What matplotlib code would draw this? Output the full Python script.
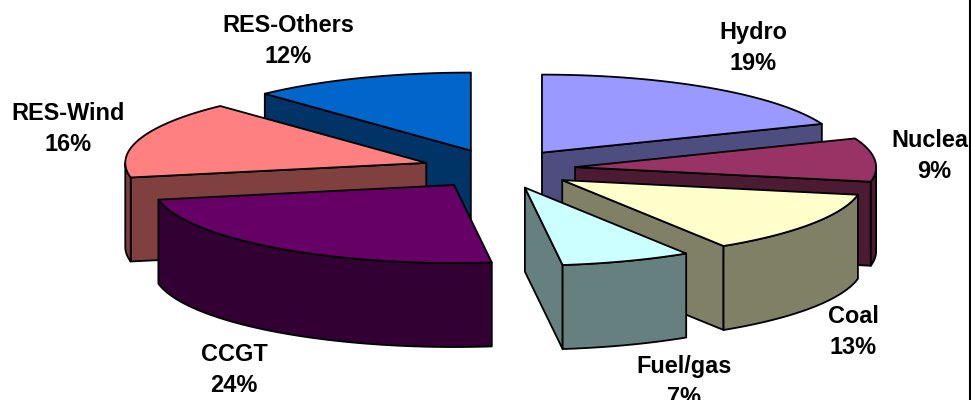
import numpy as np
import matplotlib
matplotlib.use("Agg")
import matplotlib.pyplot as plt
from matplotlib.patches import Polygon, Rectangle

categories = ["Hydro", "Nuclear", "Coal", "Fuel/gas", "CCGT", "RES-Wind", "RES-Others"]
values = [19, 9, 13, 7, 24, 16, 12]
top_colors = ["#9999FF", "#993366", "#FFFFCC", "#CCFFFF", "#660066", "#FF8080", "#0066CC"]
wall_colors = ["#4D4D80", "#4D1A33", "#808066", "#668080", "#330033", "#804040", "#003366"]
label_centers = [(753, 48), (934, 156), (853, 332), (684, 382), (234, 370), (68, 129), (288, 41)]
draw_order = [6, 0, 5, 1, 2, 4, 3]

CX, CY, RX, RY, DEPTH, EXPLODE = 499, 169, 301, 78, 84, 0.254
EDGE = dict(edgecolor="black", linewidth=1.3, joinstyle="round")

fig = plt.figure(figsize=(9.71, 4.0), dpi=100)
ax = fig.add_axes([0, 0, 1, 1])
ax.set_xlim(0, 971)
ax.set_ylim(400, 0)
ax.axis("off")


def pt(theta, cx, cy, r=1.0):
    return np.column_stack([cx + r * RX * np.sin(theta), cy - r * RY * np.cos(theta)])


def wall(top_edge, color):
    down = top_edge + np.array([0, DEPTH])
    ax.add_patch(Polygon(np.vstack([top_edge, down[::-1]]), closed=True, facecolor=color, **EDGE))


fractions = np.array(values, dtype=float) / sum(values)
edges = np.concatenate([[0], np.cumsum(fractions)]) * 2 * np.pi

for i in draw_order:
    t0, t1 = edges[i], edges[i + 1]
    mid = (t0 + t1) / 2
    ax0, ay0 = pt(mid, CX, CY, EXPLODE)[0]
    apex = np.array([[ax0, ay0]])
    # radial walls facing the viewer
    if np.cos(t0 - np.pi / 2) < -1e-6:
        wall(np.vstack([apex, pt(np.array([t0]), ax0, ay0)]), wall_colors[i])
    if np.cos(t1 + np.pi / 2) < -1e-6:
        wall(np.vstack([apex, pt(np.array([t1]), ax0, ay0)]), wall_colors[i])
    # outer rim, front half only
    lo, hi = max(t0, np.pi / 2), min(t1, 3 * np.pi / 2)
    if hi > lo:
        wall(pt(np.linspace(lo, hi, 80), ax0, ay0), wall_colors[i])
    # top face
    arc = pt(np.linspace(t0, t1, 120), ax0, ay0)
    ax.add_patch(Polygon(np.vstack([apex, arc]), closed=True, facecolor=top_colors[i], **EDGE))

clip = Rectangle((0, 0), 969, 400, transform=ax.transData)
for name, v, (x, y) in zip(categories, values, label_centers):
    t = ax.text(x, y, f"{name}\n{v}%", ha="center", va="center", family="Liberation Sans",
                fontweight="bold", fontsize=16.9, linespacing=1.42, color="black")
    t.set_clip_path(clip)
    t.set_clip_on(True)

ax.plot([970, 970], [0, 400], color="black", lw=1.5, solid_capstyle="butt", clip_on=False)

fig.savefig("out.png", dpi=100)
